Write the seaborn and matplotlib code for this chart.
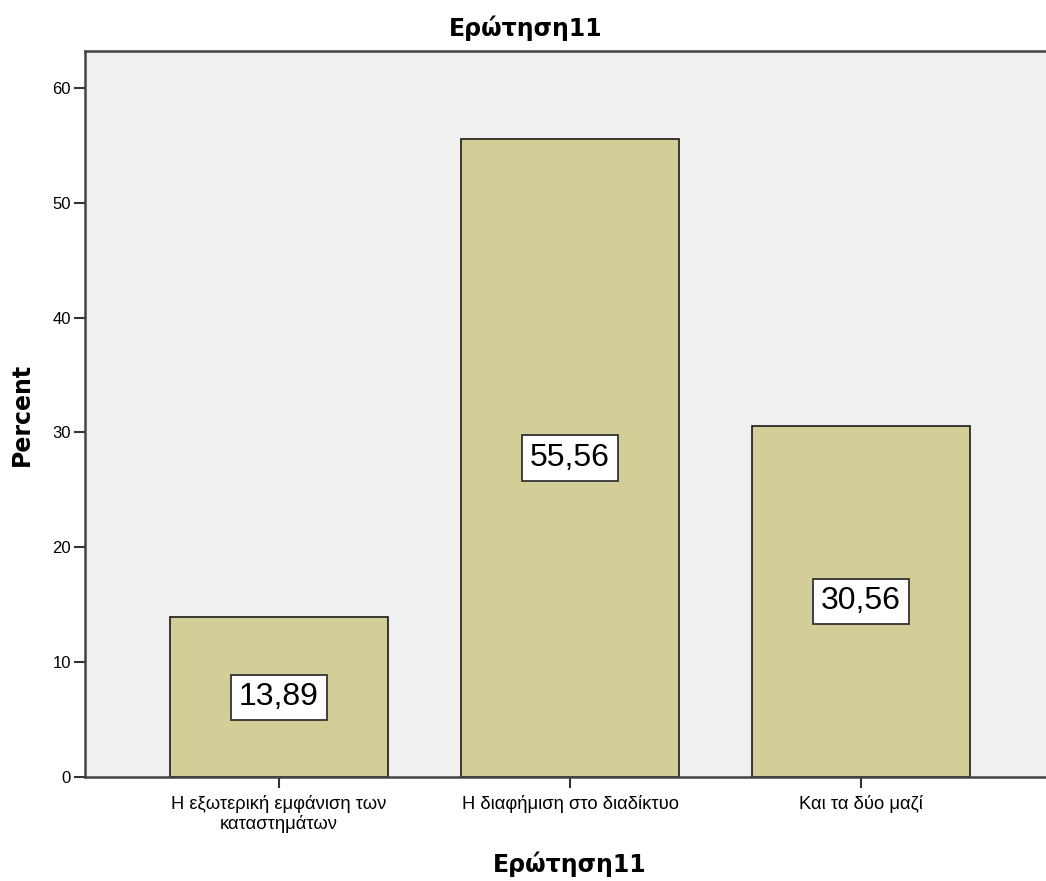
import matplotlib
matplotlib.use("Agg")
import matplotlib.pyplot as plt
import seaborn as sns
import pandas as pd

categories = ["Η εξωτερική εμφάνιση των\nκαταστημάτων", "Η διαφήμιση στο διαδίκτυο", "Και τα δύο μαζί"]
percent = [13.89, 55.56, 30.56]
labels = ["13,89", "55,56", "30,56"]
yticks = [0, 10, 20, 30, 40, 50, 60]

sns.set_style("white")
plt.rcParams['font.family'] = ['Liberation Sans', 'DejaVu Sans']
for k in ["text.color", "axes.labelcolor", "xtick.color", "ytick.color"]:
    plt.rcParams[k] = "black"

df = pd.DataFrame({"cat": categories, "pct": percent})

fig = plt.figure(figsize=(10.46, 8.81), dpi=100)
ax = fig.add_axes([85/1046, 1-777/881, 1-85/1046, (777-51)/881])
ax.set_facecolor("#F0F0F0")

sns.barplot(data=df, x="cat", y="pct", color="#D3CE98", saturation=1, width=0.75,
            edgecolor="#1a1a1a", linewidth=1.2, ax=ax)

ax.set_xlim(-0.667, 2.636)
ax.set_ylim(0, 63.2)
ax.set_yticks(yticks)
ax.set_yticklabels([str(t) for t in yticks], fontsize=12)
ax.tick_params(axis='both', direction='out', length=8, width=1.5, color="#333333", left=True, bottom=True)
ax.tick_params(axis='x', labelsize=13.2, pad=5)
ax.tick_params(axis='y', pad=2)
for lab in ax.get_xticklabels():
    lab.set_linespacing(1.15)

for s in ["left", "bottom", "top"]:
    ax.spines[s].set_color("#444444")
    ax.spines[s].set_linewidth(1.8)
    ax.spines[s].set_visible(True)
ax.spines["right"].set_visible(False)

for i, (v, t) in enumerate(zip(percent, labels)):
    ax.text(i, v/2, t, ha="center", va="center", fontsize=23,
            bbox=dict(boxstyle="square,pad=0.24", facecolor="white", edgecolor="#333333", linewidth=1.3))

ax.set_ylabel("Percent", fontsize=17, fontweight="bold", family="DejaVu Sans")
ax.set_xlabel("Ερώτηση11", fontsize=17, fontweight="bold", family="DejaVu Sans")
ax.yaxis.set_label_coords((22-85)/961, 0.5)
ax.yaxis.label.set_va("center")
ax.xaxis.set_label_coords((570-85)/961, (777-864)/726)
ax.xaxis.label.set_va("center")
fig.text(526/1046, 1-28/881, "Ερώτηση11", ha="center", va="center", fontsize=17,
         fontweight="bold", family="DejaVu Sans")

fig.savefig("out.png", dpi=100)
